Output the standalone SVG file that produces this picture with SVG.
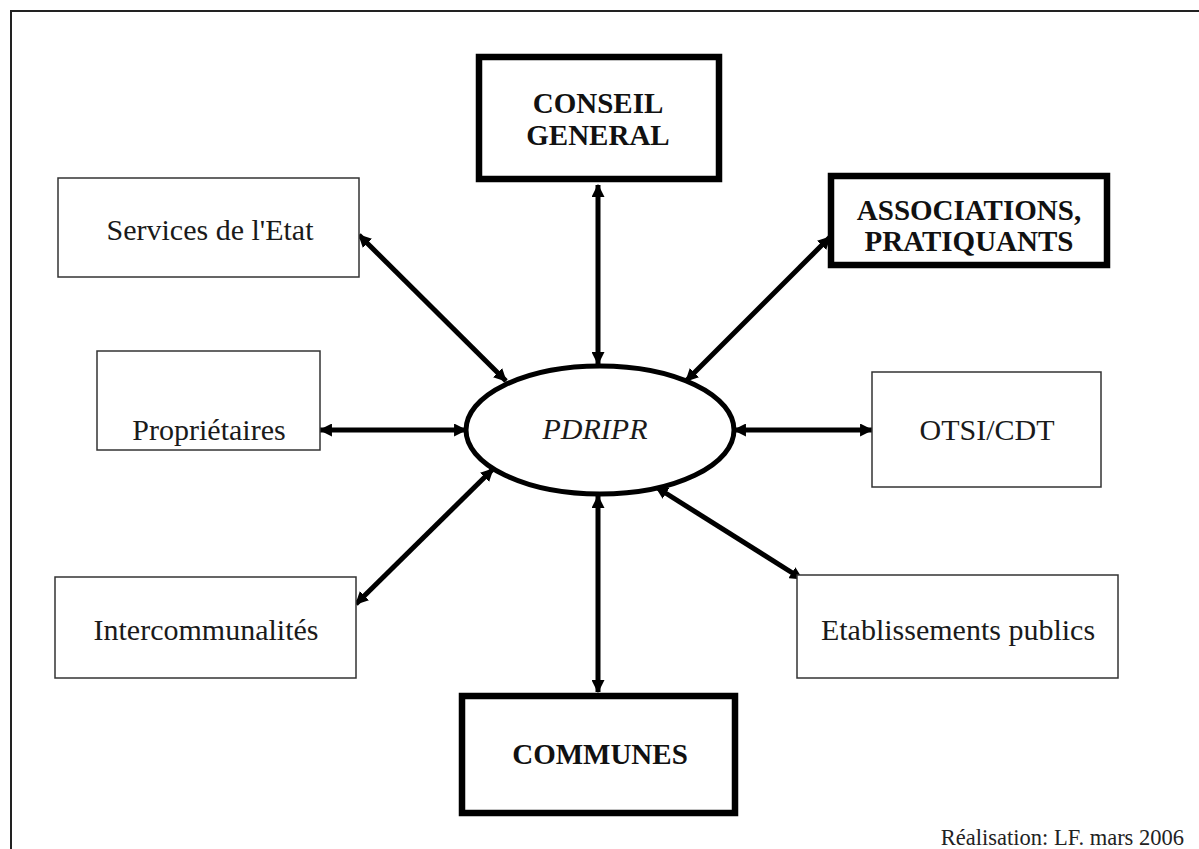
<svg xmlns="http://www.w3.org/2000/svg" width="1199" height="849" viewBox="0 0 1199 849">
  <style>
    .thin { fill: #fff; stroke: #333; stroke-width: 1.5; }
    .thick { fill: #fff; stroke: #000; stroke-width: 6.5; }
    .lbl { font-family: "Liberation Serif", "Times New Roman", serif; font-size: 30px; fill: #1a1a1a; text-anchor: middle; }
    .bold { font-weight: bold; font-size: 29px; fill: #111; }
    .link { stroke: #000; stroke-width: 5; fill: none; marker-start: url(#tip); marker-end: url(#tip); }
  </style>
  <defs>
    <marker id="tip" viewBox="0 0 12 12" refX="11" refY="6" markerWidth="13" markerHeight="13" markerUnits="userSpaceOnUse" orient="auto-start-reverse">
      <path d="M0,0 L12,6 L0,12 z" fill="#000"/>
    </marker>
  </defs>

  <rect width="1199" height="849" fill="#fff"/>
  <!-- page frame -->
  <rect x="11" y="11" width="1200" height="850" fill="none" stroke="#222" stroke-width="2"/>

  <!-- connectors between the central node and its partners -->
  <g id="connectors">
    <line class="link" x1="598" y1="185" x2="598" y2="364"/>
    <line class="link" x1="359" y1="235" x2="506" y2="381"/>
    <line class="link" x1="830" y1="237" x2="686" y2="381"/>
    <line class="link" x1="320" y1="430" x2="466" y2="430"/>
    <line class="link" x1="734" y1="430" x2="872" y2="430"/>
    <line class="link" x1="356" y1="604" x2="493" y2="469"/>
    <line class="link" x1="802" y1="579" x2="656" y2="487"/>
    <line class="link" x1="598" y1="496" x2="598" y2="692"/>
  </g>

  <g id="pdripr">
    <ellipse cx="600" cy="430" rx="134" ry="64" fill="#fff" stroke="#000" stroke-width="5"/>
    <text class="lbl" x="595" y="439" font-style="italic" font-size="28" fill="#333">PDRIPR</text>
  </g>

  <g id="conseil-general">
    <rect class="thick" x="479" y="57" width="240" height="122"/>
    <text class="lbl bold" x="598" y="113">CONSEIL</text>
    <text class="lbl bold" x="598" y="145">GENERAL</text>
  </g>

  <g id="services-etat">
    <rect class="thin" x="58" y="178" width="301" height="99"/>
    <text class="lbl" x="210" y="240">Services de l'Etat</text>
  </g>

  <g id="associations">
    <rect class="thick" x="831" y="176" width="276" height="89"/>
    <text class="lbl bold" x="969" y="220">ASSOCIATIONS,</text>
    <text class="lbl bold" x="969" y="251">PRATIQUANTS</text>
  </g>

  <g id="proprietaires">
    <rect class="thin" x="97" y="351" width="223" height="99"/>
    <text class="lbl" x="209" y="440">Propriétaires</text>
  </g>

  <g id="otsi-cdt">
    <rect class="thin" x="872" y="372" width="229" height="115"/>
    <text class="lbl" x="987" y="440">OTSI/CDT</text>
  </g>

  <g id="intercommunalites">
    <rect class="thin" x="55" y="577" width="301" height="101"/>
    <text class="lbl" x="206" y="640">Intercommunalités</text>
  </g>

  <g id="etablissements-publics">
    <rect class="thin" x="797" y="575" width="321" height="103"/>
    <text class="lbl" x="958" y="640">Etablissements publics</text>
  </g>

  <g id="communes">
    <rect class="thick" x="462" y="696" width="273" height="117"/>
    <text class="lbl bold" x="600" y="764">COMMUNES</text>
  </g>

  <text x="1184" y="845" font-family="Liberation Serif, Times New Roman, serif" font-size="22.5" fill="#222" text-anchor="end">Réalisation:  LF. mars 2006</text>
</svg>
